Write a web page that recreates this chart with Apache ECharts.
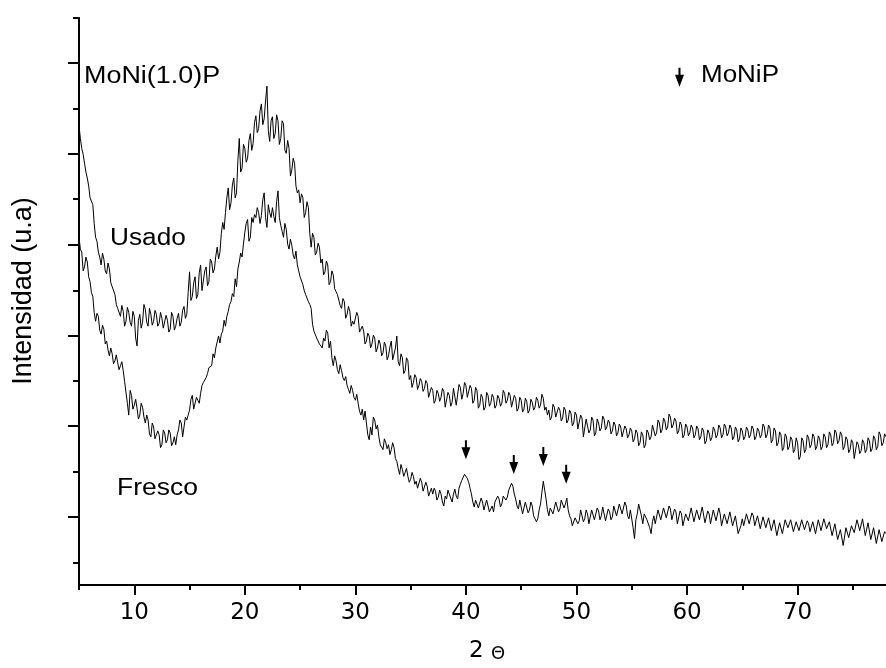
<!DOCTYPE html>
<html>
<head>
<meta charset="utf-8">
<script src="https://cdn.jsdelivr.net/npm/echarts@6/dist/echarts.min.js"></script>
<style>
  html, body { margin: 0; padding: 0; background: #fff; }
  #chart { width: 886px; height: 668px; }
</style>
</head>
<body>
<div id="chart"></div>
<script>
// 2θ sampling of the diffractograms (degrees)
const THETA_START = 5;
const THETA_STEP = 0.125;

// Intensity (arbitrary units), used catalyst MoNi(1.0)P — one row per degree, 5° … 78°
const usado = [
  465, 452, 442, 436, 427, 418, 412, 404,
  392, 394, 385, 366, 352, 348, 337, 332,
  324, 336, 330, 318, 315, 326, 320, 306,
  302, 300, 294, 284, 280, 278, 272, 283,
  277, 262, 267, 281, 276, 266, 262, 277,
  272, 250, 242, 268, 274, 260, 266, 284,
  279, 266, 262, 280, 274, 263, 267, 278,
  274, 262, 265, 276, 270, 260, 262, 273,
  268, 256, 259, 276, 272, 258, 262, 270,
  275, 262, 266, 278, 282, 270, 274, 296,
  317, 288, 292, 306, 312, 290, 294, 316,
  324, 298, 300, 318, 322, 303, 307, 330,
  327, 316, 320, 333, 342, 330, 337, 356,
  367, 360, 377, 392, 402, 380, 387, 405,
  412, 392, 397, 430, 452, 418, 422, 446,
  442, 428, 432, 450, 457, 440, 447, 468,
  475, 458, 462, 480, 487, 466, 472, 490,
  505, 460, 449, 470, 474, 452, 457, 476,
  470, 446, 452, 470, 467, 440, 437, 450,
  442, 414, 420, 432, 427, 404, 397, 400,
  387, 396, 392, 372, 377, 388, 382, 356,
  342, 356, 352, 334, 337, 346, 342, 326,
  330, 314, 317, 328, 324, 304, 307, 318,
  314, 300, 297, 294, 292, 283, 280, 290,
  287, 270, 274, 282, 277, 262, 267, 264,
  262, 276, 272, 256, 254, 262, 257, 244,
  247, 255, 252, 240, 244, 253, 250, 236,
  240, 248, 244, 232, 235, 246, 242, 228,
  232, 241, 247, 228, 230, 240, 252, 226,
  222, 234, 230, 214, 217, 230, 227, 208,
  212, 200, 205, 213, 210, 198, 202, 209,
  206, 196, 199, 207, 204, 190, 192, 200,
  197, 184, 187, 197, 194, 186, 190, 199,
  196, 180, 182, 195, 192, 181, 185, 199,
  197, 182, 184, 203, 200, 188, 194, 205,
  202, 190, 192, 202, 199, 184, 187, 200,
  197, 179, 182, 193, 190, 177, 180, 195,
  192, 181, 184, 193, 190, 179, 182, 192,
  189, 181, 184, 197, 194, 184, 187, 195,
  192, 180, 182, 192, 189, 176, 179, 190,
  187, 175, 178, 189, 186, 174, 177, 188,
  185, 177, 180, 190, 187, 179, 182, 193,
  189, 177, 180, 172, 177, 167, 170, 183,
  180, 170, 172, 180, 177, 166, 169, 180,
  177, 164, 167, 177, 174, 161, 164, 175,
  172, 158, 160, 172, 169, 150, 152, 168,
  170, 154, 157, 170, 167, 151, 154, 168,
  164, 156, 159, 171, 168, 157, 160, 167,
  164, 153, 156, 165, 162, 151, 154, 163,
  160, 150, 152, 161, 158, 149, 152, 159,
  156, 145, 148, 157, 154, 141, 144, 155,
  152, 139, 142, 157, 154, 147, 150, 162,
  160, 151, 154, 167, 164, 154, 157, 169,
  166, 157, 160, 173, 170, 159, 162, 169,
  166, 153, 156, 165, 162, 149, 152, 163,
  160, 151, 154, 162, 159, 149, 152, 161,
  158, 147, 150, 159, 156, 143, 146, 157,
  154, 146, 149, 160, 157, 149, 152, 162,
  159, 149, 152, 163, 160, 151, 154, 162,
  159, 147, 150, 160, 157, 145, 148, 159,
  156, 147, 150, 160, 157, 149, 152, 161,
  158, 147, 150, 159, 156, 149, 152, 163,
  160, 149, 152, 162, 159, 144, 147, 159,
  156, 141, 144, 155, 152, 136, 139, 153,
  150, 137, 140, 150, 147, 134, 137, 149,
  144, 127, 130, 149, 146, 134, 137, 152,
  149, 139, 142, 153, 150, 137, 140, 151,
  148, 137, 140, 153, 150, 139, 142, 155,
  152, 141, 144, 157, 154, 143, 146, 155,
  152, 137, 140, 150, 147, 134, 137, 147,
  144, 128, 130, 145, 142, 133, 136, 147,
  144, 134, 137, 149, 146, 135, 138, 151,
  148, 137, 140, 155, 152, 141, 144, 153,
  150
];

// Intensity (arbitrary units), fresh catalyst MoNi(1.0)P — one row per degree, 5° … 78°
const fresco = [
  352, 340, 337, 318, 322, 332, 327, 312,
  307, 296, 292, 276, 267, 275, 272, 258,
  254, 263, 259, 244, 247, 238, 232, 240,
  234, 224, 227, 233, 225, 218, 222, 226,
  217, 206, 204, 184, 172, 197, 192, 178,
  182, 188, 179, 168, 172, 184, 180, 170,
  164, 172, 167, 153, 150, 164, 160, 148,
  146, 156, 152, 139, 142, 157, 154, 144,
  147, 157, 154, 141, 144, 150, 142, 152,
  157, 167, 164, 150, 152, 170, 167, 172,
  177, 188, 192, 178, 180, 190, 187, 184,
  194, 202, 205, 206, 210, 214, 220, 218,
  222, 234, 230, 240, 242, 252, 245, 254,
  257, 268, 262, 272, 277, 284, 287, 295,
  292, 310, 302, 320, 327, 336, 332, 345,
  357, 366, 370, 348, 352, 372, 367, 375,
  372, 382, 377, 366, 374, 390, 397, 372,
  362, 385, 377, 372, 382, 373, 367, 388,
  399, 372, 364, 358, 352, 366, 360, 345,
  340, 350, 344, 334, 330, 338, 324, 318,
  312, 310, 304, 298, 294, 292, 287, 284,
  280, 264, 257, 255, 250, 248, 244, 242,
  240, 250, 247, 258, 255, 240, 247, 230,
  222, 232, 227, 218, 214, 223, 217, 210,
  207, 211, 202, 198, 194, 202, 197, 190,
  187, 193, 184, 176, 172, 178, 167, 176,
  174, 152, 147, 160, 152, 170, 167, 158,
  162, 150, 142, 140, 137, 148, 144, 138,
  142, 132, 137, 144, 139, 128, 125, 118,
  112, 122, 117, 110, 114, 118, 110, 104,
  107, 114, 110, 102, 105,  98, 100, 108,
  104,  95,  97, 104, 100,  90,  94,  98,
   92,  98,  95,  86,  89,  96,  92,  84,
   80,  90,  87,  96,  94,  88,  84,  92,
   97,  90,  87,  98, 102, 106, 107, 112,
  110, 108, 104,  98,  92,  84,  79,  86,
   87,  78,  80,  88,  84,  76,  77,  86,
   84,  74,  77,  80,  74,  84,  82,  90,
   87,  79,  82,  90,  92,  86,  89,  96,
   97, 103, 100,  92,  87,  80,  77,  86,
   84,  72,  74,  84,  82,  73,  76,  84,
   80,  70,  72,  64,  67,  76,  82,  94,
  105,  96,  87,  76,  70,  78,  80,  72,
   74,  84,  82,  74,  77,  86,  84,  78,
   82,  88,  76,  70,  67,  60,  62,  68,
   70,  62,  65,  76,  74,  64,  67,  76,
   72,  62,  64,  76,  74,  66,  68,  78,
   75,  66,  70,  79,  77,  65,  67,  77,
   74,  66,  69,  80,  80,  70,  72,  82,
   82,  72,  74,  84,  80,  70,  67,  76,
   77,  58,  47,  66,  72,  82,  80,  70,
   62,  72,  74,  66,  64,  58,  52,  64,
   70,  62,  64,  76,  74,  66,  67,  78,
   76,  68,  70,  80,  77,  66,  67,  77,
   74,  62,  64,  75,  72,  60,  62,  72,
   74,  65,  67,  78,  76,  64,  66,  76,
   74,  66,  68,  79,  77,  63,  65,  75,
   72,  62,  64,  76,  74,  65,  67,  78,
   72,  60,  62,  72,  70,  62,  64,  74,
   72,  60,  62,  70,  68,  52,  50,  60,
   67,  60,  62,  72,  70,  62,  64,  73,
   70,  60,  62,  70,  68,  57,  59,  69,
   67,  58,  60,  68,  66,  55,  57,  66,
   64,  50,  52,  63,  62,  52,  54,  66,
   68,  58,  60,  66,  64,  54,  56,  64,
   62,  55,  57,  66,  64,  56,  58,  65,
   62,  54,  56,  64,  62,  52,  54,  66,
   64,  55,  57,  67,  65,  57,  59,  64,
   62,  50,  52,  62,  60,  46,  47,  56,
   57,  40,  42,  58,  57,  48,  50,  60,
   62,  53,  55,  66,  64,  55,  57,  67,
   65,  50,  52,  63,  62,  46,  47,  58,
   57,  42,  44,  56,  54,  44,  46,  54,
   52
];

// MoNiP reflections marked on the fresh sample [2θ, intensity]
const moNiPPeaks = [[40.0, 137], [44.33, 122], [47.0, 130], [49.07, 112]];
// Key arrow next to the "MoNiP" caption [2θ, intensity]
const moNiPKey = [59.32, 514];

// Axis ticks
const xLabelTicks = [10, 20, 30, 40, 50, 60, 70];
const xMinorTicks = [5, 15, 25, 35, 45, 55, 65, 75];
const yMajorTicks = [69, 161, 252, 344, 437, 529];
const yMinorTicks = [23, 115, 207, 298, 391, 482, 574];

const X_MIN = 5, X_MAX = 78, Y_MIN = 0, Y_MAX = 574;

function pairs(values) {
  return values.map((v, i) => [THETA_START + i * THETA_STEP, v]);
}

// Downward arrow used to flag reflections
const ARROW = 'path://M3.5,0 L5.5,0 L5.5,7 L9,7 L4.5,19 L0,7 L3.5,7 Z';

const chart = echarts.init(document.getElementById('chart'), null, { renderer: 'canvas' });

const axisLineStyle = { color: '#000', width: 2 };
const tickStyle = { color: '#000', width: 2 };

chart.setOption({
  backgroundColor: '#fff',
  animation: false,
  grid: { left: 79, right: 0, top: 18, bottom: 76, containLabel: false },
  xAxis: [
    {
      type: 'value', min: X_MIN, max: X_MAX, position: 'bottom',
      axisLine: { show: true, onZero: false, lineStyle: axisLineStyle },
      axisTick: { show: true, length: 10, lineStyle: tickStyle, customValues: xLabelTicks },
      axisLabel: {
        show: true, customValues: xLabelTicks, margin: 17,
        color: '#000', fontSize: 23, fontFamily: 'DejaVu Sans'
      },
      splitLine: { show: false },
      name: '2 {t|Θ}', nameLocation: 'middle', nameGap: 55,
      nameTextStyle: {
        color: '#000', fontSize: 23, fontFamily: 'DejaVu Sans',
        padding: [0, 0, 0, 9],
        rich: { t: { fontSize: 18, fontFamily: 'DejaVu Sans', color: '#000', verticalAlign: 'bottom' } }
      }
    },
    {
      type: 'value', min: X_MIN, max: X_MAX, position: 'bottom',
      axisLine: { show: false, onZero: false },
      axisTick: { show: true, length: 5, lineStyle: tickStyle, customValues: xMinorTicks },
      axisLabel: { show: false },
      splitLine: { show: false }
    }
  ],
  yAxis: [
    {
      type: 'value', min: Y_MIN, max: Y_MAX, position: 'left',
      axisLine: { show: true, onZero: false, lineStyle: axisLineStyle },
      axisTick: { show: true, length: 11, lineStyle: tickStyle, customValues: yMajorTicks },
      axisLabel: { show: false },
      splitLine: { show: false }
    },
    {
      type: 'value', min: Y_MIN, max: Y_MAX, position: 'left',
      axisLine: { show: false, onZero: false },
      axisTick: { show: true, length: 6, lineStyle: tickStyle, customValues: yMinorTicks },
      axisLabel: { show: false },
      splitLine: { show: false }
    }
  ],
  series: [
    {
      name: 'Usado', type: 'line', data: pairs(usado),
      xAxisIndex: 0, yAxisIndex: 0,
      showSymbol: false, symbol: 'none', smooth: false,
      lineStyle: { color: '#000', width: 1 }
    },
    {
      name: 'Fresco', type: 'line', data: pairs(fresco),
      xAxisIndex: 0, yAxisIndex: 0,
      showSymbol: false, symbol: 'none', smooth: false,
      lineStyle: { color: '#000', width: 1 },
      markPoint: {
        silent: true,
        symbol: ARROW,
        symbolSize: [9, 19],
        itemStyle: { color: '#000' },
        label: { show: false },
        data: moNiPPeaks.concat([moNiPKey]).map(c => ({ coord: c }))
      }
    }
  ],
  graphic: [
    {
      type: 'text', x: 84, y: 77, scaleX: 1.17,
      style: { text: 'MoNi(1.0)P', fill: '#000', font: '23px "Liberation Sans"', align: 'left', verticalAlign: 'middle' }
    },
    {
      type: 'text', x: 110, y: 239, scaleX: 1.14,
      style: { text: 'Usado', fill: '#000', font: '23px "Liberation Sans"', align: 'left', verticalAlign: 'middle' }
    },
    {
      type: 'text', x: 117, y: 489, scaleX: 1.15,
      style: { text: 'Fresco', fill: '#000', font: '23px "Liberation Sans"', align: 'left', verticalAlign: 'middle' }
    },
    {
      type: 'text', x: 701, y: 76, scaleX: 1.13,
      style: { text: 'MoNiP', fill: '#000', font: '23px "Liberation Sans"', align: 'left', verticalAlign: 'middle' }
    },
    {
      type: 'text', x: 24, y: 291, rotation: Math.PI / 2,
      style: { text: 'Intensidad (u.a)', fill: '#000', font: '27px "Liberation Sans"', align: 'center', verticalAlign: 'middle' }
    }
  ]
});
</script>
</body>
</html>
